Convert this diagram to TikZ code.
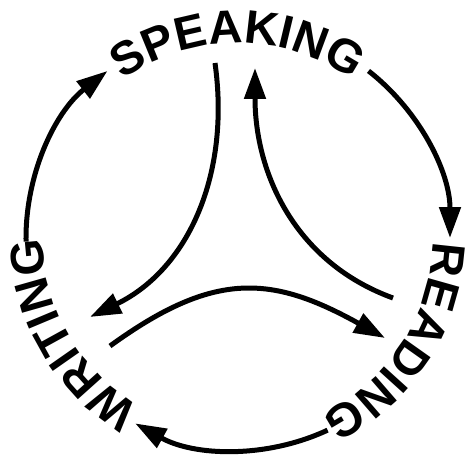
\documentclass[tikz,border=0pt]{standalone}
\usepackage{fontspec}
\setsansfont{Liberation Sans}
\usepackage{tikz}
\usetikzlibrary{arrows.meta,decorations.text}
\newcommand{\wordfont}{\sffamily\bfseries\fontsize{26.75}{30}\selectfont}

\begin{document}
\begin{tikzpicture}[
  arr/.style={-{Triangle[length=0.62cm,width=0.42cm]}, line width=0.1cm},
  word/.style={decorate, decoration={text along path, text align=center,
    text={|\wordfont|#1}}}
]
\useasboundingbox (-4.76,-4.36) rectangle (4.62,4.76);
\path[word=SPEAKING] (130:3.9) arc[start angle=130, end angle=50, radius=3.9];
\path[word=READING] (7:3.9) arc[start angle=7, end angle=-73, radius=3.9];
\path[word=WRITING] (-110:3.9) arc[start angle=-110, end angle=-190, radius=3.9];
\coordinate (spkE) at (52:4.24);
\coordinate (rdgS) at (0:4.24);
\coordinate (rdgE) at (-65:4.24);
\coordinate (wrtS) at (-119:4.24);
\coordinate (wrtE) at (181:4.24);
\coordinate (spkS) at (128:4.24);
\coordinate (spkIn) at (-0.46,3.50);
\coordinate (spkTip) at (0.34,3.40);
\coordinate (wrtTip) at (-2.96,-1.58);
\coordinate (wrtIn) at (-2.56,-2.16);
\coordinate (rdgTip) at (2.94,-2.00);
\coordinate (rdgIn) at (3.10,-1.20);
\draw[arr] (spkE) to[out=-38, in=90, looseness=0.9] (rdgS);
\draw[arr] (rdgE) to[out=-155, in=-29, looseness=0.9] (wrtS);
\draw[arr] (wrtE) to[out=91, in=218, looseness=0.9] (spkS);
\draw[arr] (spkIn) to[out=-82, in=26] (wrtTip);
\draw[arr] (rdgIn) to[out=160, in=-90] (spkTip);
\draw[arr] (wrtIn) to[out=36, in=151, looseness=1.2] (rdgTip);
\end{tikzpicture}
\end{document}
